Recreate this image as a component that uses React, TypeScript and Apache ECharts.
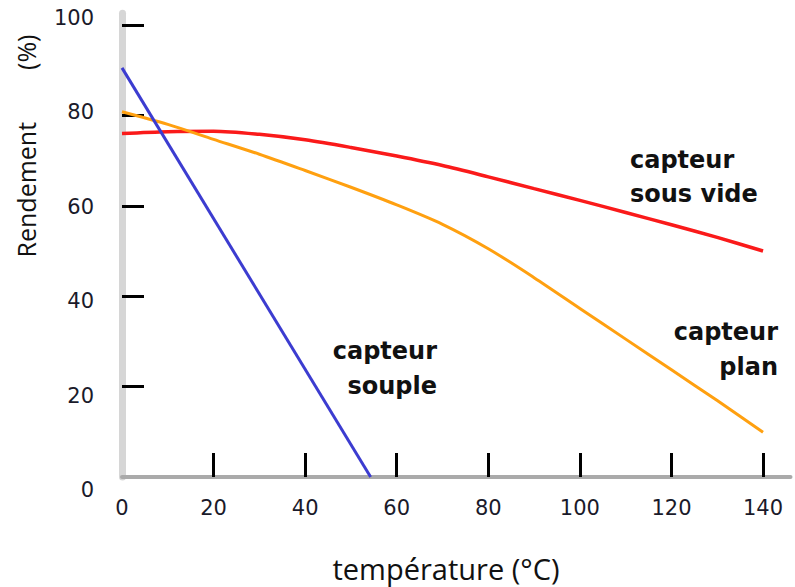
import React, { useEffect, useRef } from "react";
import * as echarts from "echarts";

const xTicks = [0, 20, 40, 60, 80, 100, 120, 140];
const yTicks = [0, 20, 40, 60, 80, 100];
const xTickMarks = [20, 40, 60, 80, 100, 120, 140];
const yTickMarks = [20, 40, 60, 80, 100];

const souple: [number, number][] = [
  [0, 90.5],
  [54.3, 0],
];

const sousVideX = [0, 10, 20, 30, 40, 50, 60, 70, 80, 90, 100, 110, 120, 130, 140];
const sousVideY = [76, 76.4, 76.5, 75.8, 74.6, 72.9, 71.0, 68.9, 66.4, 63.8, 61.2, 58.5, 55.8, 53.0, 50];

const planX = [0, 10, 20, 30, 40, 50, 60, 70, 80, 90, 100, 110, 120, 130, 140];
const planY = [80.8, 78, 74.7, 71.4, 67.8, 64.1, 60.2, 55.9, 50.5, 44.1, 37.3, 30.5, 23.7, 16.9, 9.9];

const xTitle = "température (°C)";
const yTitle = "Rendement        (%)";

export default function App() {
  const ref = useRef<HTMLDivElement>(null);
  useEffect(() => {
    if (!ref.current) return;
    const chart = echarts.init(ref.current, null, { renderer: "svg" });
    const tickFont = { fontFamily: "DejaVu Sans", fontSize: 21, color: "#1a1a2a" };
    const lblFont = "bold 24px 'DejaVu Sans'";
    chart.setOption({
      animation: false,
      backgroundColor: "#ffffff",
      grid: [
        { left: 122, right: 4.5, top: 13.2, bottom: 110 },
        { left: 122, right: 4.5, top: 18, bottom: 97 },
      ],
      xAxis: [
        {
          type: "value",
          gridIndex: 0,
          min: 0,
          max: 146,
          splitLine: { show: false },
          axisLine: { show: true, lineStyle: { color: "#aaaaaa", width: 4 } },
          axisTick: {
            show: true,
            inside: true,
            length: 24,
            customValues: xTickMarks,
            lineStyle: { color: "#000", width: 3 },
          },
          axisLabel: { show: true, margin: 20, customValues: xTicks, ...tickFont },
        },
        {
          type: "value",
          gridIndex: 1,
          min: 0,
          max: 146,
          show: false,
        },
      ],
      yAxis: [
        {
          type: "value",
          gridIndex: 0,
          min: 0,
          max: 102.6,
          splitLine: { show: false },
          axisLine: { show: true, lineStyle: { color: "#d6d6d6", width: 7 } },
          axisTick: {
            show: true,
            inside: true,
            length: 22,
            customValues: yTickMarks,
            lineStyle: { color: "#000", width: 3 },
          },
          axisLabel: { show: false },
        },
        {
          type: "value",
          gridIndex: 1,
          min: 0,
          max: 100,
          splitLine: { show: false },
          axisLine: { show: false },
          axisTick: { show: false },
          axisLabel: { show: true, margin: 28, customValues: yTicks, ...tickFont },
        },
      ],
      series: [
        {
          type: "line",
          name: "capteur sous vide",
          xAxisIndex: 0,
          yAxisIndex: 0,
          data: sousVideX.map((x, i) => [x, sousVideY[i]]),
          smooth: 0.3,
          showSymbol: false,
          lineStyle: { color: "#fa1a1a", width: 3.5 },
        },
        {
          type: "line",
          name: "capteur plan",
          xAxisIndex: 0,
          yAxisIndex: 0,
          data: planX.map((x, i) => [x, planY[i]]),
          smooth: 0.3,
          showSymbol: false,
          lineStyle: { color: "#ffa010", width: 3 },
        },
        {
          type: "line",
          name: "capteur souple",
          xAxisIndex: 0,
          yAxisIndex: 0,
          data: souple,
          showSymbol: false,
          lineStyle: { color: "#3c3cd0", width: 3 },
        },
      ],
      graphic: [
        {
          type: "text",
          x: 26,
          y: 146,
          rotation: Math.PI / 2,
          style: {
            text: yTitle,
            font: "25px 'Open Sans'",
            fill: "#111",
            textAlign: "center",
            textVerticalAlign: "middle",
          },
        },
        {
          type: "text",
          x: 446,
          y: 568,
          style: {
            text: xTitle,
            font: "29px 'Open Sans'",
            fill: "#111",
            textAlign: "center",
            textVerticalAlign: "middle",
          },
        },
        {
          type: "text",
          x: 630,
          y: 160,
          style: { text: "capteur", font: lblFont, fill: "#111", textAlign: "left", textVerticalAlign: "middle" },
        },
        {
          type: "text",
          x: 630,
          y: 194,
          style: { text: "sous vide", font: lblFont, fill: "#111", textAlign: "left", textVerticalAlign: "middle" },
        },
        {
          type: "text",
          x: 778,
          y: 332,
          style: { text: "capteur", font: lblFont, fill: "#111", textAlign: "right", textVerticalAlign: "middle" },
        },
        {
          type: "text",
          x: 778,
          y: 367,
          style: { text: "plan", font: lblFont, fill: "#111", textAlign: "right", textVerticalAlign: "middle" },
        },
        {
          type: "text",
          x: 437,
          y: 351,
          style: { text: "capteur", font: lblFont, fill: "#111", textAlign: "right", textVerticalAlign: "middle" },
        },
        {
          type: "text",
          x: 437,
          y: 386,
          style: { text: "souple", font: lblFont, fill: "#111", textAlign: "right", textVerticalAlign: "middle" },
        },
      ],
    });
    return () => chart.dispose();
  }, []);
  return <div ref={ref} style={{ width: 795, height: 587, position: "fixed", left: 0, top: 0 }} />;
}
